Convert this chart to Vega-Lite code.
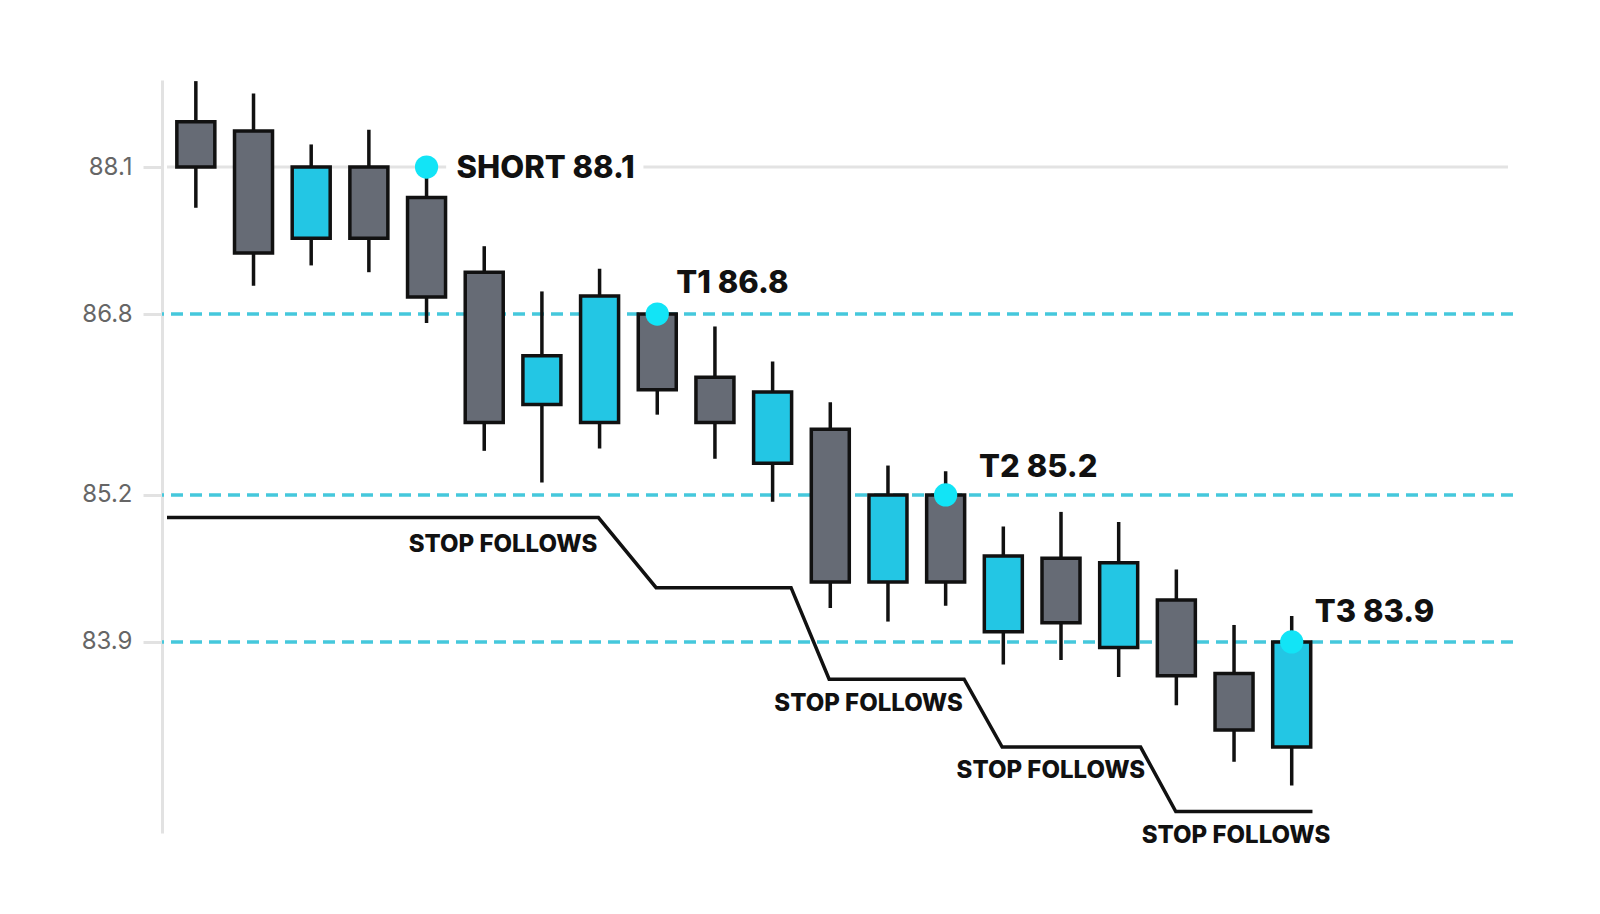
{
  "$schema": "https://vega.github.io/schema/vega-lite/v6.json",
  "width": 1351,
  "height": 753,
  "autosize": "none",
  "padding": {"left": 162, "top": 80, "right": 87, "bottom": 81},
  "background": "white",
  "config": {
    "view": {"stroke": null},
    "font": "Inter",
    "axisY": {
      "grid": false,
      "domainColor": "#e2e2e2",
      "domainWidth": 3,
      "tickColor": "#e2e2e2",
      "tickWidth": 3,
      "tickSize": 19,
      "labelPadding": 11,
      "labelFont": "Inter",
      "labelFontSize": 24,
      "labelColor": "#666666"
    }
  },
  "datasets": {
    "candles": [
      {"i": 1, "open": 88.50, "close": 88.10, "high": 88.86, "low": 87.74},
      {"i": 2, "open": 88.42, "close": 87.34, "high": 88.75, "low": 87.05},
      {"i": 3, "open": 87.47, "close": 88.10, "high": 88.30, "low": 87.23},
      {"i": 4, "open": 88.10, "close": 87.47, "high": 88.43, "low": 87.17},
      {"i": 5, "open": 87.83, "close": 86.95, "high": 88.10, "low": 86.72},
      {"i": 6, "open": 87.17, "close": 85.84, "high": 87.40, "low": 85.59},
      {"i": 7, "open": 86.00, "close": 86.43, "high": 87.00, "low": 85.31},
      {"i": 8, "open": 85.84, "close": 86.96, "high": 87.20, "low": 85.61},
      {"i": 9, "open": 86.80, "close": 86.13, "high": 86.80, "low": 85.91},
      {"i": 10, "open": 86.24, "close": 85.84, "high": 86.69, "low": 85.52},
      {"i": 11, "open": 85.48, "close": 86.11, "high": 86.38, "low": 85.14},
      {"i": 12, "open": 85.78, "close": 84.43, "high": 86.02, "low": 84.20},
      {"i": 13, "open": 84.43, "close": 85.20, "high": 85.46, "low": 84.08},
      {"i": 14, "open": 85.20, "close": 84.43, "high": 85.41, "low": 84.22},
      {"i": 15, "open": 83.99, "close": 84.66, "high": 84.92, "low": 83.70},
      {"i": 16, "open": 84.64, "close": 84.07, "high": 85.05, "low": 83.74},
      {"i": 17, "open": 83.85, "close": 84.60, "high": 84.96, "low": 83.59},
      {"i": 18, "open": 84.27, "close": 83.60, "high": 84.54, "low": 83.34},
      {"i": 19, "open": 83.62, "close": 83.12, "high": 84.05, "low": 82.84},
      {"i": 20, "open": 82.97, "close": 83.90, "high": 84.13, "low": 82.63}
    ],
    "entryLine": [
      {"from": 0.5, "to": 5.34, "level": 88.1},
      {"from": 8.76, "to": 23.75, "level": 88.1}
    ],
    "targets": [
      {"level": 86.8},
      {"level": 85.2},
      {"level": 83.9}
    ],
    "stop": [
      {"i": 0.5, "p": 85.00},
      {"i": 7.98, "p": 85.00},
      {"i": 8.98, "p": 84.38},
      {"i": 11.32, "p": 84.38},
      {"i": 11.98, "p": 83.57},
      {"i": 14.32, "p": 83.57},
      {"i": 14.98, "p": 82.97},
      {"i": 17.38, "p": 82.97},
      {"i": 17.99, "p": 82.40},
      {"i": 20.36, "p": 82.40}
    ],
    "hits": [
      {"i": 5, "p": 88.1},
      {"i": 9, "p": 86.8},
      {"i": 14, "p": 85.2},
      {"i": 20, "p": 83.9}
    ],
    "levelLabels": [
      {"text": "SHORT 88.1", "i": 5.52, "p": 88.08},
      {"text": "T1 86.8", "i": 9.33, "p": 87.07},
      {"text": "T2 85.2", "i": 14.58, "p": 85.44},
      {"text": "T3 83.9", "i": 20.40, "p": 84.16}
    ],
    "stopLabels": [
      {"text": "STOP FOLLOWS", "i": 4.69, "p": 84.76},
      {"text": "STOP FOLLOWS", "i": 11.03, "p": 83.35},
      {"text": "STOP FOLLOWS", "i": 14.19, "p": 82.76},
      {"text": "STOP FOLLOWS", "i": 17.40, "p": 82.18}
    ]
  },
  "layer": [
    {
      "data": {"name": "entryLine"},
      "mark": {"type": "rule", "color": "#e3e3e3", "strokeWidth": 3},
      "encoding": {
        "x": {"field": "from", "type": "quantitative", "scale": {"domain": [0.5, 23.75], "nice": false, "zero": false}, "axis": null},
        "x2": {"field": "to"},
        "y": {
          "field": "level",
          "type": "quantitative",
          "title": null,
          "scale": {"domain": [82.21, 88.87], "nice": false, "zero": false},
          "axis": {"values": [83.9, 85.2, 86.8, 88.1], "format": ".1f"}
        }
      }
    },
    {
      "data": {"name": "targets"},
      "mark": {"type": "rule", "color": "#45c8dc", "strokeWidth": 3.5, "strokeDash": [12, 7]},
      "encoding": {
        "y": {"field": "level", "type": "quantitative", "title": null, "axis": {"values": [83.9, 85.2, 86.8, 88.1], "format": ".1f"}}
      }
    },
    {
      "data": {"name": "stop"},
      "mark": {"type": "line", "color": "#111111", "strokeWidth": 3.5, "strokeJoin": "miter"},
      "encoding": {
        "x": {"field": "i", "type": "quantitative", "axis": null},
        "y": {"field": "p", "type": "quantitative", "title": null, "axis": {"values": [83.9, 85.2, 86.8, 88.1], "format": ".1f"}}
      }
    },
    {
      "data": {"name": "candles"},
      "mark": {"type": "rule", "color": "#111111", "strokeWidth": 3.5},
      "encoding": {
        "x": {"field": "i", "type": "quantitative", "axis": null},
        "y": {"field": "low", "type": "quantitative", "title": null, "axis": {"values": [83.9, 85.2, 86.8, 88.1], "format": ".1f"}},
        "y2": {"field": "high"}
      }
    },
    {
      "data": {"name": "candles"},
      "mark": {"type": "bar", "width": 38, "stroke": "#111111", "strokeWidth": 3.5},
      "encoding": {
        "x": {"field": "i", "type": "quantitative", "axis": null},
        "y": {"field": "open", "type": "quantitative", "title": null, "axis": {"values": [83.9, 85.2, 86.8, 88.1], "format": ".1f"}},
        "y2": {"field": "close"},
        "fill": {
          "condition": {"test": "datum.close > datum.open", "value": "#23c6e4"},
          "value": "#666b75"
        }
      }
    },
    {
      "data": {"name": "hits"},
      "mark": {"type": "circle", "size": 540, "color": "#12e4f6", "opacity": 1},
      "encoding": {
        "x": {"field": "i", "type": "quantitative", "axis": null},
        "y": {"field": "p", "type": "quantitative", "title": null, "axis": {"values": [83.9, 85.2, 86.8, 88.1], "format": ".1f"}}
      }
    },
    {
      "data": {"name": "levelLabels"},
      "mark": {"type": "text", "align": "left", "baseline": "middle", "font": "Inter", "fontWeight": 800, "fontSize": 31, "color": "#111111"},
      "encoding": {
        "x": {"field": "i", "type": "quantitative", "axis": null},
        "y": {"field": "p", "type": "quantitative", "title": null, "axis": {"values": [83.9, 85.2, 86.8, 88.1], "format": ".1f"}},
        "text": {"field": "text"}
      }
    },
    {
      "data": {"name": "stopLabels"},
      "mark": {"type": "text", "align": "left", "baseline": "middle", "font": "Inter", "fontWeight": 800, "fontSize": 24, "color": "#111111"},
      "encoding": {
        "x": {"field": "i", "type": "quantitative", "axis": null},
        "y": {"field": "p", "type": "quantitative", "title": null, "axis": {"values": [83.9, 85.2, 86.8, 88.1], "format": ".1f"}},
        "text": {"field": "text"}
      }
    }
  ]
}
